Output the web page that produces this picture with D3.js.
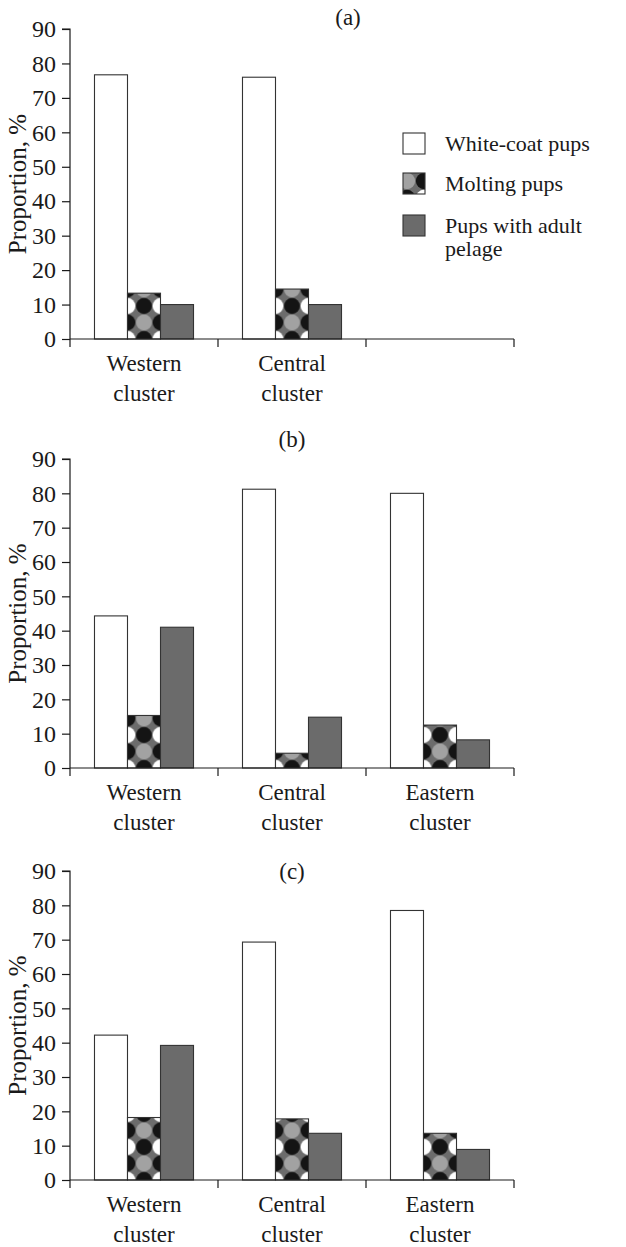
<!DOCTYPE html>
<html>
<head>
<meta charset="utf-8">
<script src="https://cdn.jsdelivr.net/npm/d3@7"></script>
<style>
  body { margin: 0; background: #fff; }
  text { font-family: "Liberation Serif", "DejaVu Serif", serif; fill: #1a1a1a; }
</style>
</head>
<body>
<div id="chart"></div>
<script>
// categories and series
const clusters = ["Western cluster", "Central cluster", "Eastern cluster"];
const series = ["White-coat pups", "Molting pups", "Pups with adult pelage"];
const yTicks = [0, 10, 20, 30, 40, 50, 60, 70, 80, 90];

// values per panel, one array per series
const panelA = {
    white:   [76.7, 76.0, null],
    molting: [13.3, 14.5, null],
    adult:   [10.0, 10.0, null]
};
const panelB = {
    white:   [44.3, 81.2, 80.0],
    molting: [15.3, 4.3, 12.5],
    adult:   [41.0, 14.8, 8.2]
};
const panelC = {
    white:   [42.2, 69.3, 78.5],
    molting: [18.2, 17.8, 13.6],
    adult:   [39.2, 13.6, 8.9]
};

const W = 626, H = 1247;
const left = 70, right = 514;

const panels = [
    {label: "(a)", data: panelA, cats: 2, top: 29, bottom: 339, titleX: 348, titleY: 17, legend: true},
    {label: "(b)", data: panelB, cats: 3, top: 459, bottom: 768, titleX: 292, titleY: 439},
    {label: "(c)", data: panelC, cats: 3, top: 871, bottom: 1180, titleX: 292, titleY: 871}
];

const svg = d3.select("#chart")
    .append("svg")
    .attr("width", W)
    .attr("height", H);

const defs = svg.append("defs");

const x0 = d3.scaleBand()
    .domain(clusters)
    .range([left, right])
    .padding(0);

const x1 = d3.scaleBand()
    .domain(series)
    .range([0, x0.bandwidth()])
    .paddingInner(0)
    .paddingOuter(0.742);

const bw = x1.bandwidth();

// dotted pattern for molting pups, anchored at bar left / baseline
let patId = 0;
function makePattern(px, py, w) {
    const id = "molt" + (patId++);
    const step = w / 2;
    const p = defs.append("pattern")
        .attr("id", id)
        .attr("patternUnits", "userSpaceOnUse")
        .attr("x", px).attr("y", py)
        .attr("width", w).attr("height", w);
    p.append("rect").attr("width", w).attr("height", w).attr("fill", "#6c6c6c");
    const r = step * 0.48;
    const dots = [
        [0, 0, "#fff"], [step, 0, "#141414"], [w, 0, "#fff"],
        [0, step, "#141414"], [step, step, "#a2a2a2"], [w, step, "#141414"],
        [0, w, "#fff"], [step, w, "#141414"], [w, w, "#fff"]
    ];
    p.selectAll("circle").data(dots).join("circle")
        .attr("cx", d => d[0]).attr("cy", d => d[1]).attr("r", r)
        .attr("fill", d => d[2]);
    return "url(#" + id + ")";
}

panels.forEach(pn => {
    const g = svg.append("g");

    const y = d3.scaleLinear()
        .domain([0, 90])
        .range([pn.bottom, pn.top]);

    // bars
    const keys = ["white", "molting", "adult"];
    clusters.forEach((c, ci) => {
        keys.forEach((k, si) => {
            const v = pn.data[k][ci];
            if (v == null) return;
            const bx = x0(c) + x1(series[si]);
            let fill;
            if (k === "white") fill = "#fff";
            else if (k === "adult") fill = "#6b6b6b";
            else fill = makePattern(bx, y(0), bw);
            g.append("rect")
                .attr("x", bx)
                .attr("y", y(v))
                .attr("width", bw)
                .attr("height", y(0) - y(v))
                .attr("fill", fill)
                .attr("stroke", "#333")
                .attr("stroke-width", 1.1);
        });
    });

    // y axis
    const yAxis = g.append("g")
        .attr("transform", `translate(${left},0)`)
        .call(d3.axisLeft(y).tickValues(yTicks).tickSize(8).tickPadding(6));
    yAxis.select(".domain").attr("d", `M-8,${pn.top}H0V${pn.bottom + 8}`);

    // x axis with ticks at band boundaries
    const xg = g.append("g").attr("transform", `translate(0,${pn.bottom})`);
    xg.append("line")
        .attr("x1", left).attr("x2", right)
        .attr("stroke", "#1a1a1a").attr("stroke-width", 1.2);
    const bounds = clusters.map(c => x0(c) + x0.bandwidth());
    xg.selectAll(".xt").data(bounds).join("line")
        .attr("x1", d => d).attr("x2", d => d)
        .attr("y1", 0).attr("y2", 8)
        .attr("stroke", "#1a1a1a").attr("stroke-width", 1.2);

    const labs = xg.selectAll(".xl").data(clusters.slice(0, pn.cats)).join("text")
        .attr("text-anchor", "middle")
        .attr("font-size", 23)
        .attr("transform", d => `translate(${x0(d) + x0.bandwidth() / 2},0)`);
    labs.append("tspan").attr("x", 0).attr("y", 32).text(d => d.split(" ")[0]);
    labs.append("tspan").attr("x", 0).attr("y", 62).text(d => d.split(" ")[1]);

    yAxis.selectAll("line").attr("stroke", "#1a1a1a").attr("stroke-width", 1.2);
    yAxis.select(".domain").attr("stroke", "#1a1a1a").attr("stroke-width", 1.2);
    yAxis.selectAll("text")
        .attr("font-size", 24)
        .attr("font-family", "Liberation Serif")
        .attr("fill", "#1a1a1a");

    // y label
    g.append("text")
        .attr("transform", `translate(26,${(pn.top + pn.bottom) / 2}) rotate(-90)`)
        .attr("text-anchor", "middle")
        .attr("font-size", 25)
        .text("Proportion, %");

    // panel title
    g.append("text")
        .attr("x", pn.titleX)
        .attr("y", pn.titleY)
        .attr("dy", "0.35em")
        .attr("text-anchor", "middle")
        .attr("font-size", 23)
        .text(pn.label);

    if (pn.legend) {
        const lg = g.append("g").attr("transform", "translate(403,133)");
        const rows = [
            {name: ["White-coat pups"], y: 0},
            {name: ["Molting pups"], y: 40},
            {name: ["Pups with adult", "pelage"], y: 82}
        ];
        rows.forEach((r, i) => {
            let fill = i === 0 ? "#fff" : i === 2 ? "#6b6b6b" : null;
            if (i === 1) fill = makePattern(403 - 8, 133 + r.y - 6, 34);
            lg.append("rect")
                .attr("x", 0).attr("y", r.y)
                .attr("width", 22).attr("height", 21)
                .attr("fill", fill)
                .attr("stroke", "#333").attr("stroke-width", 1.1);
            const t = lg.append("text").attr("font-size", 22);
            r.name.forEach((s, j) => {
                t.append("tspan").attr("x", 42).attr("y", r.y + 18 + j * 23).text(s);
            });
        });
    }
});
</script>
</body>
</html>
